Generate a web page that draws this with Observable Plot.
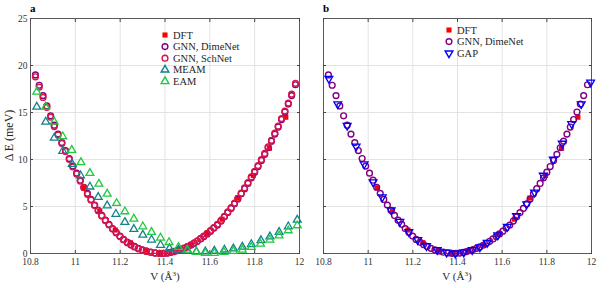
<!DOCTYPE html>
<html><head><meta charset="utf-8">
<script src="https://cdn.jsdelivr.net/npm/d3@7"></script>
<script src="https://cdn.jsdelivr.net/npm/@observablehq/plot@0.6"></script>
<style>
body{margin:0;background:#fff;}
#wrap{position:relative;width:610px;height:288px;font-family:"Liberation Serif",serif;background:#fff;}
#wrap > svg{position:absolute;top:0;}
#wrap svg text{font-family:"Liberation Serif",serif !important;}
</style></head><body><div id="wrap"></div>
<script>
// ---- data ----
const xTicks = [10.8, 11, 11.2, 11.4, 11.6, 11.8, 12];
const yTicks = [0, 5, 10, 15, 20, 25];

const dftV = [11.040, 11.109, 11.178, 11.245, 11.313, 11.381, 11.450, 11.518, 11.586, 11.655, 11.724, 11.794, 11.866, 11.939];
const dftE = [7.0, 4.5, 2.5, 1.15, 0.35, 0.0, 0.25, 0.9, 2.05, 3.65, 5.9, 8.3, 11.2, 14.5];

const gnnV = [10.822,10.839,10.856,10.873,10.890,10.906,10.923,10.940,10.956,10.973,10.989,11.006,11.022,11.038,11.054,11.070,11.086,11.102,11.118,11.134,11.150,11.166,11.182,11.199,11.215,11.232,11.248,11.264,11.281,11.299,11.317,11.336,11.356,11.375,11.393,11.410,11.425,11.440,11.455,11.470,11.485,11.500,11.515,11.530,11.544,11.559,11.573,11.588,11.603,11.618,11.634,11.650,11.665,11.680,11.695,11.710,11.725,11.740,11.755,11.770,11.785,11.800,11.815,11.830,11.845,11.860,11.875,11.890,11.905,11.920,11.935,11.950,11.965,11.982];
const dimeE = [19.0,17.9,16.8,15.7,14.65,13.65,12.7,11.8,10.95,10.1,9.3,8.55,7.8,7.05,6.4,5.75,5.15,4.6,4.05,3.55,3.1,2.65,2.25,1.85,1.5,1.2,0.95,0.75,0.55,0.4,0.26,0.14,0.06,0.02,0.01,0.05,0.12,0.2,0.3,0.42,0.55,0.7,0.88,1.08,1.3,1.55,1.8,2.08,2.38,2.7,3.02,3.45,3.9,4.35,4.8,5.28,5.8,6.35,6.9,7.45,8.05,8.65,9.25,9.9,10.55,11.25,11.95,12.7,13.45,14.25,15.05,15.9,16.8,17.95];
const schE  = [18.8,17.7,16.6,15.55,14.5,13.5,12.6,11.7,10.85,10.0,9.2,8.45,7.7,7.0,6.3,5.7,5.1,4.55,4.0,3.5,3.05,2.6,2.2,1.8,1.45,1.15,0.9,0.7,0.5,0.36,0.22,0.12,0.05,0.01,0.01,0.06,0.13,0.22,0.32,0.44,0.58,0.74,0.92,1.12,1.34,1.6,1.86,2.14,2.44,2.76,3.1,3.52,3.96,4.42,4.88,5.36,5.88,6.42,6.98,7.55,8.15,8.75,9.35,10.0,10.65,11.35,12.05,12.8,13.55,14.35,15.15,16.0,16.95,18.1];

const meamV = [10.828,10.868,10.906,10.944,10.986,11.023,11.065,11.102,11.142,11.181,11.221,11.261,11.301,11.340,11.380,11.420,11.460,11.500,11.540,11.580,11.620,11.665,11.705,11.745,11.785,11.828,11.868,11.909,11.950,11.990];
const meamE = [15.6,14.0,12.3,10.9,9.5,8.3,7.1,6.0,5.1,4.2,3.33,2.6,1.98,1.46,0.9,0.55,0.4,0.28,0.2,0.2,0.28,0.4,0.52,0.7,0.98,1.4,1.8,2.27,2.87,3.58];

const eamV = [10.828,10.868,10.906,10.944,10.984,11.025,11.065,11.105,11.142,11.184,11.221,11.261,11.301,11.340,11.380,11.418,11.460,11.500,11.540,11.580,11.620,11.663,11.705,11.745,11.785,11.826,11.868,11.909,11.950,11.990];
const eamE = [17.2,15.6,14.0,12.45,11.0,9.7,8.55,7.4,6.35,5.35,4.47,3.69,2.87,2.27,1.67,1.2,0.67,0.39,0.14,0.03,0.03,0.14,0.25,0.39,0.67,1.03,1.46,1.9,2.45,2.98];

const gapV = [10.824,10.864,10.906,10.946,10.982,11.022,11.063,11.103,11.142,11.182,11.222,11.261,11.309,11.351,11.390,11.428,11.466,11.500,11.533,11.580,11.623,11.664,11.710,11.745,11.784,11.829,11.869,11.911,11.954,11.996];
const gapE = [18.6,15.9,13.6,11.4,9.5,7.6,6.0,4.6,3.4,2.3,1.45,0.8,0.38,0.12,0.0,0.12,0.38,0.67,1.15,1.95,2.85,4.0,5.25,6.5,8.3,10.0,11.7,13.8,15.9,18.2];

const labelsA = ["DFT", "GNN, DimeNet", "GNN, SchNet", "MEAM", "EAM"];
const labelsB = ["DFT", "GNN, DimeNet", "GAP"];

// ---- styles ----
const C = {DFT:"#ff0000", DIME:"#800080", SCH:"#dc1446", MEAM:"#12838c", EAM:"#22c840", GAP:"#0000ff"};
const zip = (V, E) => V.map((v, i) => ({v, e: E[i]}));

const dft = zip(dftV, dftE), dime = zip(gnnV, dimeE), sch = zip(gnnV, schE),
      meam = zip(meamV, meamE), eam = zip(eamV, eamE), gap = zip(gapV, gapE);

const sq = (data) => Plot.dot(data, {x:"v", y:"e", symbol:"square", r:2.9, fill:C.DFT});
const circ = (data, c) => Plot.dot(data, {x:"v", y:"e", symbol:"circle", r:2.9, stroke:c, strokeWidth:1.4, fill:"none"});
const tri = (data, c, rot) => Plot.dot(data, {x:"v", y:"e", symbol:"triangle", r:2.9, stroke:c, strokeWidth:1.3, fill:"none", rotate:rot});

function panel(opts, marks, showY) {
  return Plot.plot({
    width: 305, height: 288,
    marginLeft: opts.ml, marginRight: opts.mr, marginTop: 18, marginBottom: 35,
    x: {domain: [10.8, 12]},
    y: {domain: [0, 25]},
    style: {fontFamily: "Liberation Serif, serif", fontSize: "9.5px", color: "#262626", background: "transparent", overflow: "visible"},
    marks: [
      Plot.gridX(xTicks, {stroke: "#e3e3e3", strokeOpacity: 1}),
      Plot.gridY(yTicks, {stroke: "#e3e3e3", strokeOpacity: 1}),
      Plot.axisX(xTicks, {tickSize: -3, tickPadding: 8, label: null, stroke:"#444", fill:"#333", tickFormat: d => String(d)}),
      Plot.axisX(xTicks, {anchor:"top", tickSize: -3, tickFormat: () => "", label: null, stroke:"#444"}),
      Plot.axisY(yTicks, {tickSize: -3, tickPadding: 6, label: null, stroke:"#444", fill:"#333", tickFormat: showY ? (d => String(d)) : (() => "")}),
      Plot.axisY(yTicks, {anchor:"right", tickSize: -3, tickFormat: () => "", label: null, stroke:"#444"}),
      Plot.frame({stroke: "#4a4a4a", strokeWidth: 0.9}),
      ...marks
    ]
  });
}

const wrap = document.getElementById("wrap");
const pa = panel({ml: 30, mr: 6}, [sq(dft), circ(dime, C.DIME), circ(sch, C.SCH), tri(meam, C.MEAM, 0), tri(eam, C.EAM, 0)], true);
pa.style.left = "0px";
const pb = panel({ml: 18, mr: 19}, [sq(dft), circ(dime, C.DIME), tri(gap, C.GAP, 180)], false);
pb.style.left = "305px";
wrap.appendChild(pa); wrap.appendChild(pb);

// ---- overlay: panel letters, axis titles, legends ----
const ov = d3.select(wrap).append("svg").attr("width", 610).attr("height", 288)
  .style("left", "0px").style("font-family", "Liberation Serif, serif").style("pointer-events","none");
ov.append("text").attr("x", 30).attr("y", 11.5).attr("font-weight", "bold").attr("font-size", 11).text("a");
ov.append("text").attr("x", 323).attr("y", 11.5).attr("font-weight", "bold").attr("font-size", 11).text("b");
ov.append("text").attr("transform", "translate(13,135.5) rotate(-90)").attr("text-anchor", "middle")
  .attr("font-size", 12).attr("fill", "#262626").text("Δ E (meV)");
for (const cx of [165, 457]) {
  const t = ov.append("text").attr("x", cx).attr("y", 280).attr("text-anchor", "middle").attr("font-size", 11).attr("fill", "#262626");
  t.append("tspan").text("V (Å");
  t.append("tspan").attr("font-size", 7).attr("dy", -4.5).text("3");
  t.append("tspan").attr("dy", 4.5).text(")");
}
const symDefs = {
  DFT: {type: d3.symbolSquare, size: 26, fill: C.DFT},
  "GNN, DimeNet": {type: d3.symbolCircle, size: 26, stroke: C.DIME},
  "GNN, SchNet": {type: d3.symbolCircle, size: 26, stroke: C.SCH},
  MEAM: {type: d3.symbolTriangle, size: 26, stroke: C.MEAM},
  EAM: {type: d3.symbolTriangle, size: 26, stroke: C.EAM},
  GAP: {type: d3.symbolTriangle, size: 26, stroke: C.GAP, rot: 180}
};
function legend(labels, sx, tx, y0, dy) {
  labels.forEach((lab, i) => {
    const s = symDefs[lab], y = y0 + i * dy;
    ov.append("path").attr("d", d3.symbol(s.type, s.size)())
      .attr("transform", `translate(${sx},${y}) rotate(${s.rot || 0})`)
      .attr("fill", s.fill || "none").attr("stroke", s.stroke || "none").attr("stroke-width", 1.4);
    ov.append("text").attr("x", tx).attr("y", y + 3.6).attr("font-size", 10.5).attr("fill", "#262626").text(lab);
  });
}
legend(labelsA, 165, 173, 35, 11.6);
legend(labelsB, 449, 457, 30, 11.6);
</script></body></html>
